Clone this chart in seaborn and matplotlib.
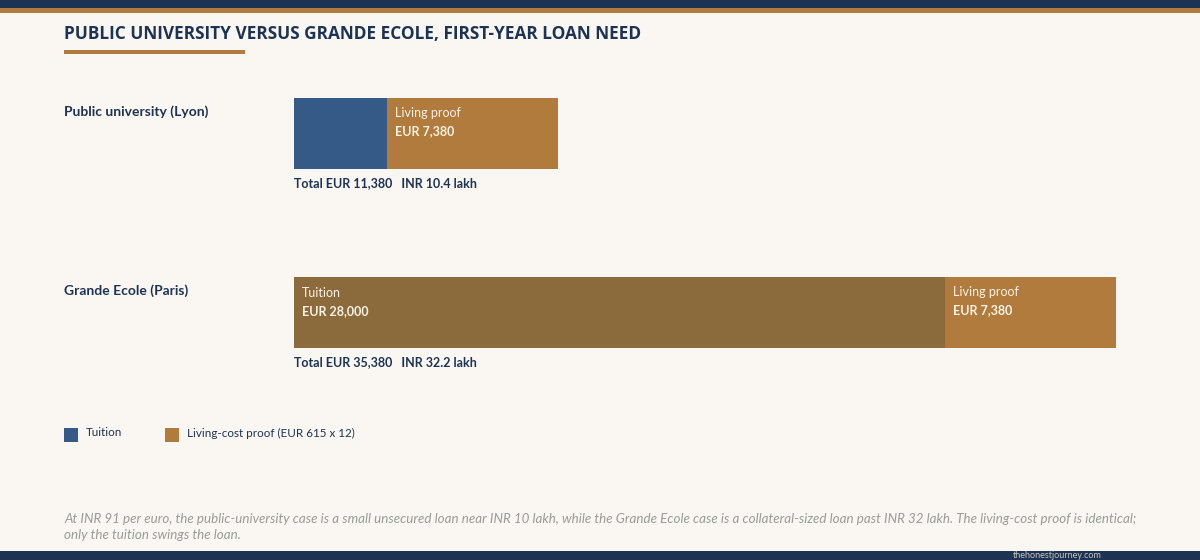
import matplotlib
matplotlib.use("Agg")
import matplotlib.pyplot as plt
import matplotlib.transforms as mtransforms
from matplotlib.patches import Rectangle
import seaborn as sns
import pandas as pd

# ---- data ----
categories = ["Public university (Lyon)", "Grande Ecole (Paris)"]
tuition_eur = [4000, 28000]
living_eur = [7380, 7380]
total_eur = [11380, 35380]
total_inr_lakh = [10.4, 32.2]
tuition_labels = [None, "Tuition"]
living_labels = ["Living proof", "Living proof"]
legend_labels = ["Tuition", "Living-cost proof (EUR 615 x 12)"]
title = "PUBLIC UNIVERSITY VERSUS GRANDE ECOLE, FIRST-YEAR LOAN NEED"
footnote = ("At INR 91 per euro, the public-university case is a small unsecured loan near INR 10 lakh, "
            "while the Grande Ecole case is a collateral-sized loan past INR 32 lakh. The living-cost proof is identical;\n"
            "only the tuition swings the loan.")
watermark = "thehonestjourney.com"

# ---- style ----
BG = "#FAF7F2"
NAVY = "#1C3354"
GOLD = "#B07B3C"
BLUE = "#365A87"
BROWN = "#8B6A3C"
INBAR = "#FBF3E6"
GREY = "#9A9A9A"

sns.set_theme(style="white")
plt.rcParams["font.family"] = ["Lato", "DejaVu Sans"]

W, H = 1200, 560
fig = plt.figure(figsize=(W / 100, H / 100), dpi=100, facecolor=BG)

def fx(x):
    return x / W

def fy(y):
    return 1 - y / H

# bands
fig.add_artist(Rectangle((0, fy(8)), 1, 8 / H, transform=fig.transFigure, color=NAVY, lw=0))
fig.add_artist(Rectangle((0, fy(13)), 1, 5 / H, transform=fig.transFigure, color=GOLD, lw=0))
fig.add_artist(Rectangle((0, 0), 1, 9 / H, transform=fig.transFigure, color=NAVY, lw=0))
fig.add_artist(Rectangle((fx(64), fy(54)), 181 / W, 4 / H, transform=fig.transFigure, color=GOLD, lw=0))

fig.text(fx(64), fy(34), title, fontsize=12.4, fontweight="bold", color=NAVY,
         va="center", ha="left", family=["Open Sans", "DejaVu Sans"])

# axes: x from px 294 to 1116, y from 98 to 348
ax = fig.add_axes([fx(294), fy(348), 822 / W, 250 / H])
ax.set_facecolor(BG)
ax.patch.set_alpha(0)

df = pd.DataFrame({"cat": categories, "tuition": tuition_eur, "living": living_eur,
                   "total": total_eur})
df["stack"] = df["tuition"] + df["living"]

bw = 71 / 179
sns.barplot(data=df, x="stack", y="cat", hue="cat", palette=[GOLD, GOLD], width=bw,
            orient="h", legend=False, ax=ax, linewidth=0, saturation=1)
sns.barplot(data=df, x="tuition", y="cat", hue="cat", palette=[BLUE, BROWN], width=bw,
            orient="h", legend=False, ax=ax, linewidth=0, saturation=1)

ax.set_xlim(0, max(df["stack"]))
ax.set_ylim(1 + 0.1983, -0.1983)
ax.axis("off")

def off(dx, dy):
    return mtransforms.offset_copy(ax.transData, fig=fig, x=dx, y=dy, units="dots")

row_tr = mtransforms.offset_copy(
    mtransforms.blended_transform_factory(fig.transFigure, ax.transData),
    fig=fig, x=0, y=-14, units="dots")

for i in range(len(categories)):
    top = i - bw / 2
    bot = i + bw / 2
    if tuition_labels[i]:
        ax.text(0, top, tuition_labels[i], transform=off(8, -16), color=INBAR,
                fontsize=9, va="center", ha="left")
        ax.text(0, top, f"EUR {tuition_eur[i]:,}", transform=off(8, -34), color=INBAR,
                fontsize=9, fontweight="bold", va="center", ha="left")
    ax.text(tuition_eur[i], top, living_labels[i], transform=off(8, -15), color=INBAR,
            fontsize=9, va="center", ha="left")
    ax.text(tuition_eur[i], top, f"EUR {living_eur[i]:,}", transform=off(8, -33), color=INBAR,
            fontsize=9, fontweight="bold", va="center", ha="left")
    ax.text(0, bot, f"Total EUR {total_eur[i]:,}   INR {total_inr_lakh[i]} lakh",
            transform=off(0, -14), color=NAVY, fontsize=9.0, fontweight="bold",
            va="center", ha="left")
    ax.text(fx(64), top, categories[i], transform=row_tr,
            color=NAVY, fontsize=10, fontweight="bold", va="center", ha="left")

# legend
fig.add_artist(Rectangle((fx(64), fy(442)), 14 / W, 14 / H, transform=fig.transFigure, color=BLUE, lw=0))
fig.text(fx(86), fy(433), legend_labels[0], fontsize=8.4, color=NAVY, va="center", ha="left")
fig.add_artist(Rectangle((fx(165), fy(442)), 14 / W, 14 / H, transform=fig.transFigure, color=GOLD, lw=0))
fig.text(fx(187), fy(433), legend_labels[1], fontsize=8.4, color=NAVY, va="center", ha="left")

fig.text(fx(64), fy(527), footnote, fontsize=9.65, style="italic", color=GREY,
         va="center", ha="left", linespacing=1.45)

fig.text(fx(1013), fy(555.5), watermark, fontsize=6.5, color="#C9C4BA", va="center", ha="left")

fig.savefig("out.png", dpi=100, facecolor=BG)
